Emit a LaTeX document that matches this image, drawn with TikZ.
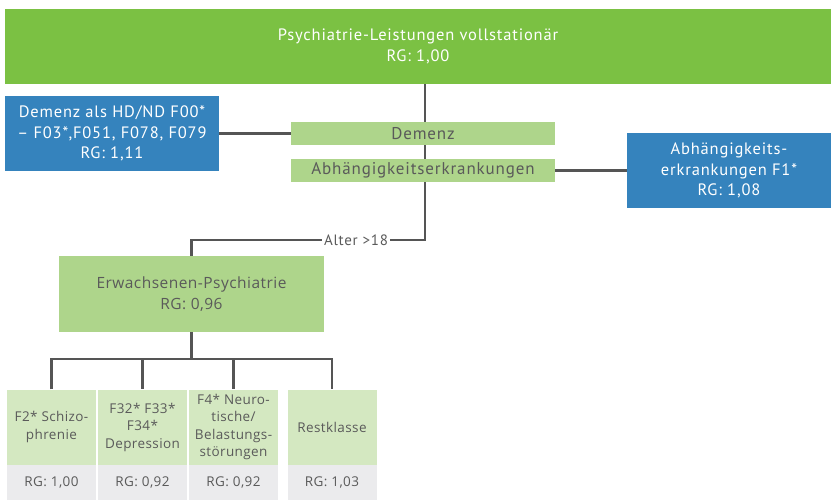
\documentclass[tikz,border=0pt]{standalone}
\usepackage{fontspec}
\setmainfont{PT Sans}[LetterSpace=5]
\newfontfamily\lowfont[LetterSpace=3]{Open Sans}
\usetikzlibrary{positioning}

\definecolor{topgreen}{HTML}{7BC143}
\definecolor{midgreen}{HTML}{AED58B}
\definecolor{palegreen}{HTML}{D4E8C1}
\definecolor{palegray}{HTML}{EBEBED}
\definecolor{boxblue}{HTML}{3583BD}
\definecolor{txtgray}{HTML}{5A5A5A}
\definecolor{linegray}{HTML}{555555}

\tikzset{
  conn/.style={draw=linegray, line width=2.6pt},
  topbar/.style={fill=topgreen, text=white, inner sep=0pt, align=center,
    minimum width=826pt, minimum height=75pt, font=\fontsize{16.5}{21}\selectfont},
  bluebox/.style={fill=boxblue, text=white, inner sep=0pt, align=center,
    minimum height=75pt, font=\fontsize{16.5}{20.5}\selectfont},
  strip/.style={fill=midgreen, text=txtgray, inner sep=0pt,
    minimum width=264pt, minimum height=23pt, font=\fontsize{17}{19}\selectfont},
  adultbox/.style={fill=midgreen, text=txtgray, inner sep=0pt, align=center,
    minimum width=265pt, minimum height=76pt, font=\lowfont\fontsize{15.5}{21}\selectfont},
  diagbox/.style={fill=palegreen, text=txtgray, inner sep=0pt, align=center,
    minimum width=89pt, minimum height=75pt, font=\lowfont\fontsize{13.5}{17.5}\selectfont},
  rgbox/.style={fill=palegray, text=txtgray, inner sep=0pt, align=center,
    minimum width=89pt, minimum height=35pt, font=\lowfont\fontsize{13.5}{15}\selectfont},
}

\begin{document}
\begin{tikzpicture}[x=1pt, y=-1pt]
\useasboundingbox (0,0) rectangle (831,500);

% oberste Ebene
\node[topbar] (psy) at (418,46.5) {Psychiatrie-Leistungen vollstationär\\RG: 1,00};

% Abfrage Demenz / Abhaengigkeit
\node[strip] (dem) at (423,133.5) {Demenz};
\node[strip] (abh) at (423,170.5) {Abhängigkeitserkrankungen};
\node[bluebox, minimum width=214pt] (demx) at (112,133.5)
  {Demenz als HD/ND F00*\\– F03*,F051, F078, F079\\RG: 1,11};
\node[bluebox, minimum width=204pt] (abhx) at (729,170.5)
  {Abhängigkeits-\\erkrankungen F1*\\RG: 1,08};

% Erwachsene
\node[adultbox] (erw) at (191.5,294) {Erwachsenen-Psychiatrie\\RG: 0,96};
\node[fill=white, text=txtgray, inner sep=2pt, font=\fontsize{15}{17}\selectfont]
  (alter) at (356,240) {Alter >18};

% Diagnosegruppen
\node[diagbox] (f2) at (51.5,427) {F2* Schizo-\\phrenie};
\node[diagbox] (f3) at (142.5,427) {F32* F33*\\F34*\\Depression};
\node[diagbox] (f4) at (233.5,427) {F4* Neuro-\\tische/\\Belastungs-\\störungen};
\node[diagbox] (rest) at (332,427) {Restklasse};
\node[rgbox, below=0pt of f2] (rg2) {RG: 1,00};
\node[rgbox, below=0pt of f3] (rg3) {RG: 0,92};
\node[rgbox, below=0pt of f4] (rg4) {RG: 0,92};
\node[rgbox, below=0pt of rest] (rgrest) {RG: 1,03};

% Verbindungen
\coordinate (knee) at (425,240);
\coordinate (fork) at (191.5,359);
\draw[conn] (psy.south -| knee) -- (dem.north -| knee);
\draw[conn] (dem.south -| knee) -- (abh.north -| knee);
\draw[conn] (abh.south -| knee) -- (knee) -- (alter.east);
\draw[conn] (alter.west) -| (erw.north);
\draw[conn] (demx.east |- dem) -- (dem.west);
\draw[conn] (abh.east) -- (abhx.west |- abh);
\draw[conn] (erw.south) -- (fork);
\draw[conn] (f2.north) |- (fork) -| (rest.north);
\draw[conn] (fork -| f3.north) -- (f3.north);
\draw[conn] (fork -| f4.north) -- (f4.north);
\end{tikzpicture}
\end{document}
